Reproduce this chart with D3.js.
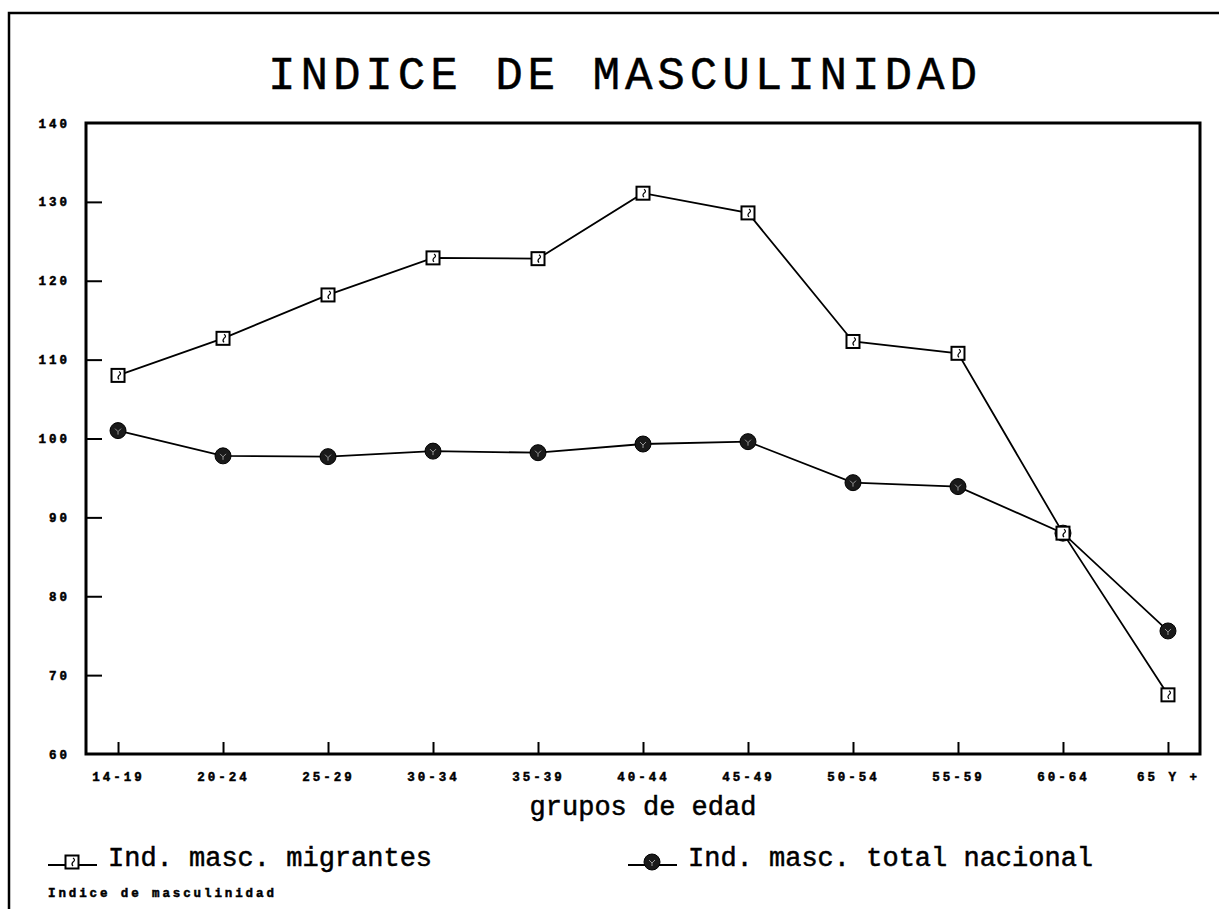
<!DOCTYPE html>
<html>
<head>
<meta charset="utf-8">
<script src="https://cdn.jsdelivr.net/npm/d3@7"></script>
<style>
  body { margin: 0; background: #fff; }
  svg { display: block; }
</style>
</head>
<body>
<script>
// data
var ageGroups = ["14-19", "20-24", "25-29", "30-34", "35-39", "40-44", "45-49", "50-54", "55-59", "60-64", "65 Y +"];
var migrantes = [108.0, 112.7, 118.2, 122.9, 122.8, 131.1, 128.6, 112.3, 110.8, 88.0, 67.5];
var nacional = [101.0, 97.8, 97.7, 98.4, 98.2, 99.3, 99.6, 94.4, 93.9, 88.0, 75.6];
var yTicks = [60, 70, 80, 90, 100, 110, 120, 130, 140];

var width = 1219, height = 909;
var margin = { top: 123, right: 19, bottom: 155, left: 86 };
var chartWidth = width - margin.left - margin.right;
var chartHeight = height - margin.top - margin.bottom;

var mono = "'Courier New', Courier, 'Liberation Mono', monospace";

var svg = d3.select("body").append("svg")
  .attr("width", width)
  .attr("height", height);

// scan border (left and top only)
svg.append("path")
  .attr("d", "M9,909 L9,13 L1219,13")
  .attr("fill", "none")
  .attr("stroke", "#000")
  .attr("stroke-width", 2.5);

// title
svg.append("text")
  .attr("x", 268)
  .attr("y", 89)
  .attr("textLength", 709)
  .attr("lengthAdjust", "spacing")
  .attr("stroke", "#000")
  .attr("stroke-width", 0.4)
  .style("font-family", mono)
  .style("font-size", "46px")
  .text("INDICE DE MASCULINIDAD");

var chartGroup = svg.append("g")
  .attr("transform", `translate(${margin.left}, ${margin.top})`);

var xScale = d3.scalePoint()
  .domain(ageGroups)
  .range([0, chartWidth])
  .padding(0.305);

var yScale = d3.scaleLinear()
  .domain([60, 140])
  .range([chartHeight, 0]);

// axes: ticks point into the plot
var yAxis = d3.axisLeft(yScale)
  .tickValues(yTicks)
  .tickSizeInner(-16)
  .tickSizeOuter(0)
  .tickPadding(16);

var xAxis = d3.axisBottom(xScale)
  .tickSizeInner(-12)
  .tickSizeOuter(0)
  .tickPadding(18);

var yG = chartGroup.append("g").call(yAxis);
var xG = chartGroup.append("g")
  .attr("transform", `translate(0, ${chartHeight})`)
  .call(xAxis);

[yG, xG].forEach(function(g) {
  g.select(".domain").remove();
  g.selectAll("line").attr("stroke", "#000").attr("stroke-width", 2);
  g.selectAll("text")
    .attr("fill", "#000")
    .attr("stroke", "#000")
    .attr("stroke-width", 0.5)
    .style("font-family", mono)
    .style("font-weight", "bold")
    .style("font-size", "12.5px")
    .style("letter-spacing", "3px");
});
// no tick marks where the frame is
yG.selectAll(".tick").filter(d => d === 60 || d === 140).select("line").remove();

// plot frame
chartGroup.append("rect")
  .attr("x", 0)
  .attr("y", 0)
  .attr("width", chartWidth)
  .attr("height", chartHeight)
  .attr("fill", "none")
  .attr("stroke", "#000")
  .attr("stroke-width", 3);

var line = d3.line()
  .x((d, i) => xScale(ageGroups[i]))
  .y(d => yScale(d));

chartGroup.append("path")
  .datum(migrantes)
  .attr("d", line)
  .attr("fill", "none")
  .attr("stroke", "#000")
  .attr("stroke-width", 1.8);

chartGroup.append("path")
  .datum(nacional)
  .attr("d", line)
  .attr("fill", "none")
  .attr("stroke", "#000")
  .attr("stroke-width", 1.8);

// markers
function squareMarker(g, cx, cy) {
  g.append("rect")
    .attr("x", cx - 6.5)
    .attr("y", cy - 6.5)
    .attr("width", 13)
    .attr("height", 13)
    .attr("fill", "#fff")
    .attr("stroke", "#000")
    .attr("stroke-width", 2);
  g.append("path")
    .attr("d", `M${cx + 1},${cy - 4} q3,2 0,4 q-2,2 0,4`)
    .attr("fill", "none")
    .attr("stroke", "#000")
    .attr("stroke-width", 1.2);
}

function circleMarker(g, cx, cy) {
  g.append("circle")
    .attr("cx", cx)
    .attr("cy", cy)
    .attr("r", 8)
    .attr("fill", "#1a1a1a")
    .attr("stroke", "#000")
    .attr("stroke-width", 1);
  g.append("path")
    .attr("d", `M${cx - 3},${cy - 2} l3,3 l3,-3 M${cx},${cy + 1} l0,3`)
    .attr("fill", "none")
    .attr("stroke", "#999")
    .attr("stroke-width", 1);
}

nacional.forEach(function(v, i) {
  circleMarker(chartGroup, xScale(ageGroups[i]), yScale(v));
});
migrantes.forEach(function(v, i) {
  squareMarker(chartGroup, xScale(ageGroups[i]), yScale(v));
});

// x axis title
svg.append("text")
  .attr("x", 643)
  .attr("y", 815)
  .attr("text-anchor", "middle")
  .attr("stroke", "#000")
  .attr("stroke-width", 0.5)
  .style("font-family", mono)
  .style("font-size", "27px")
  .text("grupos de edad");

// legend
var legend = [
  { label: "Ind. masc. migrantes", x: 48, marker: squareMarker },
  { label: "Ind. masc. total nacional", x: 628, marker: circleMarker }
];
legend.forEach(function(item) {
  var g = svg.append("g");
  g.append("line")
    .attr("x1", item.x)
    .attr("x2", item.x + 49)
    .attr("y1", 865)
    .attr("y2", 865)
    .attr("stroke", "#000")
    .attr("stroke-width", 1.8);
  item.marker(g, item.x + 24, 862);
  g.append("text")
    .attr("x", item.x + 60)
    .attr("y", 866)
    .attr("stroke", "#000")
    .attr("stroke-width", 0.5)
    .style("font-family", mono)
    .style("font-size", "27px")
    .text(item.label);
});

// footnote
svg.append("text")
  .attr("x", 48)
  .attr("y", 897)
  .attr("stroke", "#000")
  .attr("stroke-width", 0.5)
  .style("font-family", mono)
  .style("font-weight", "bold")
  .style("font-size", "12.5px")
  .style("letter-spacing", "2.9px")
  .text("Indice de masculinidad");
</script>
</body>
</html>
